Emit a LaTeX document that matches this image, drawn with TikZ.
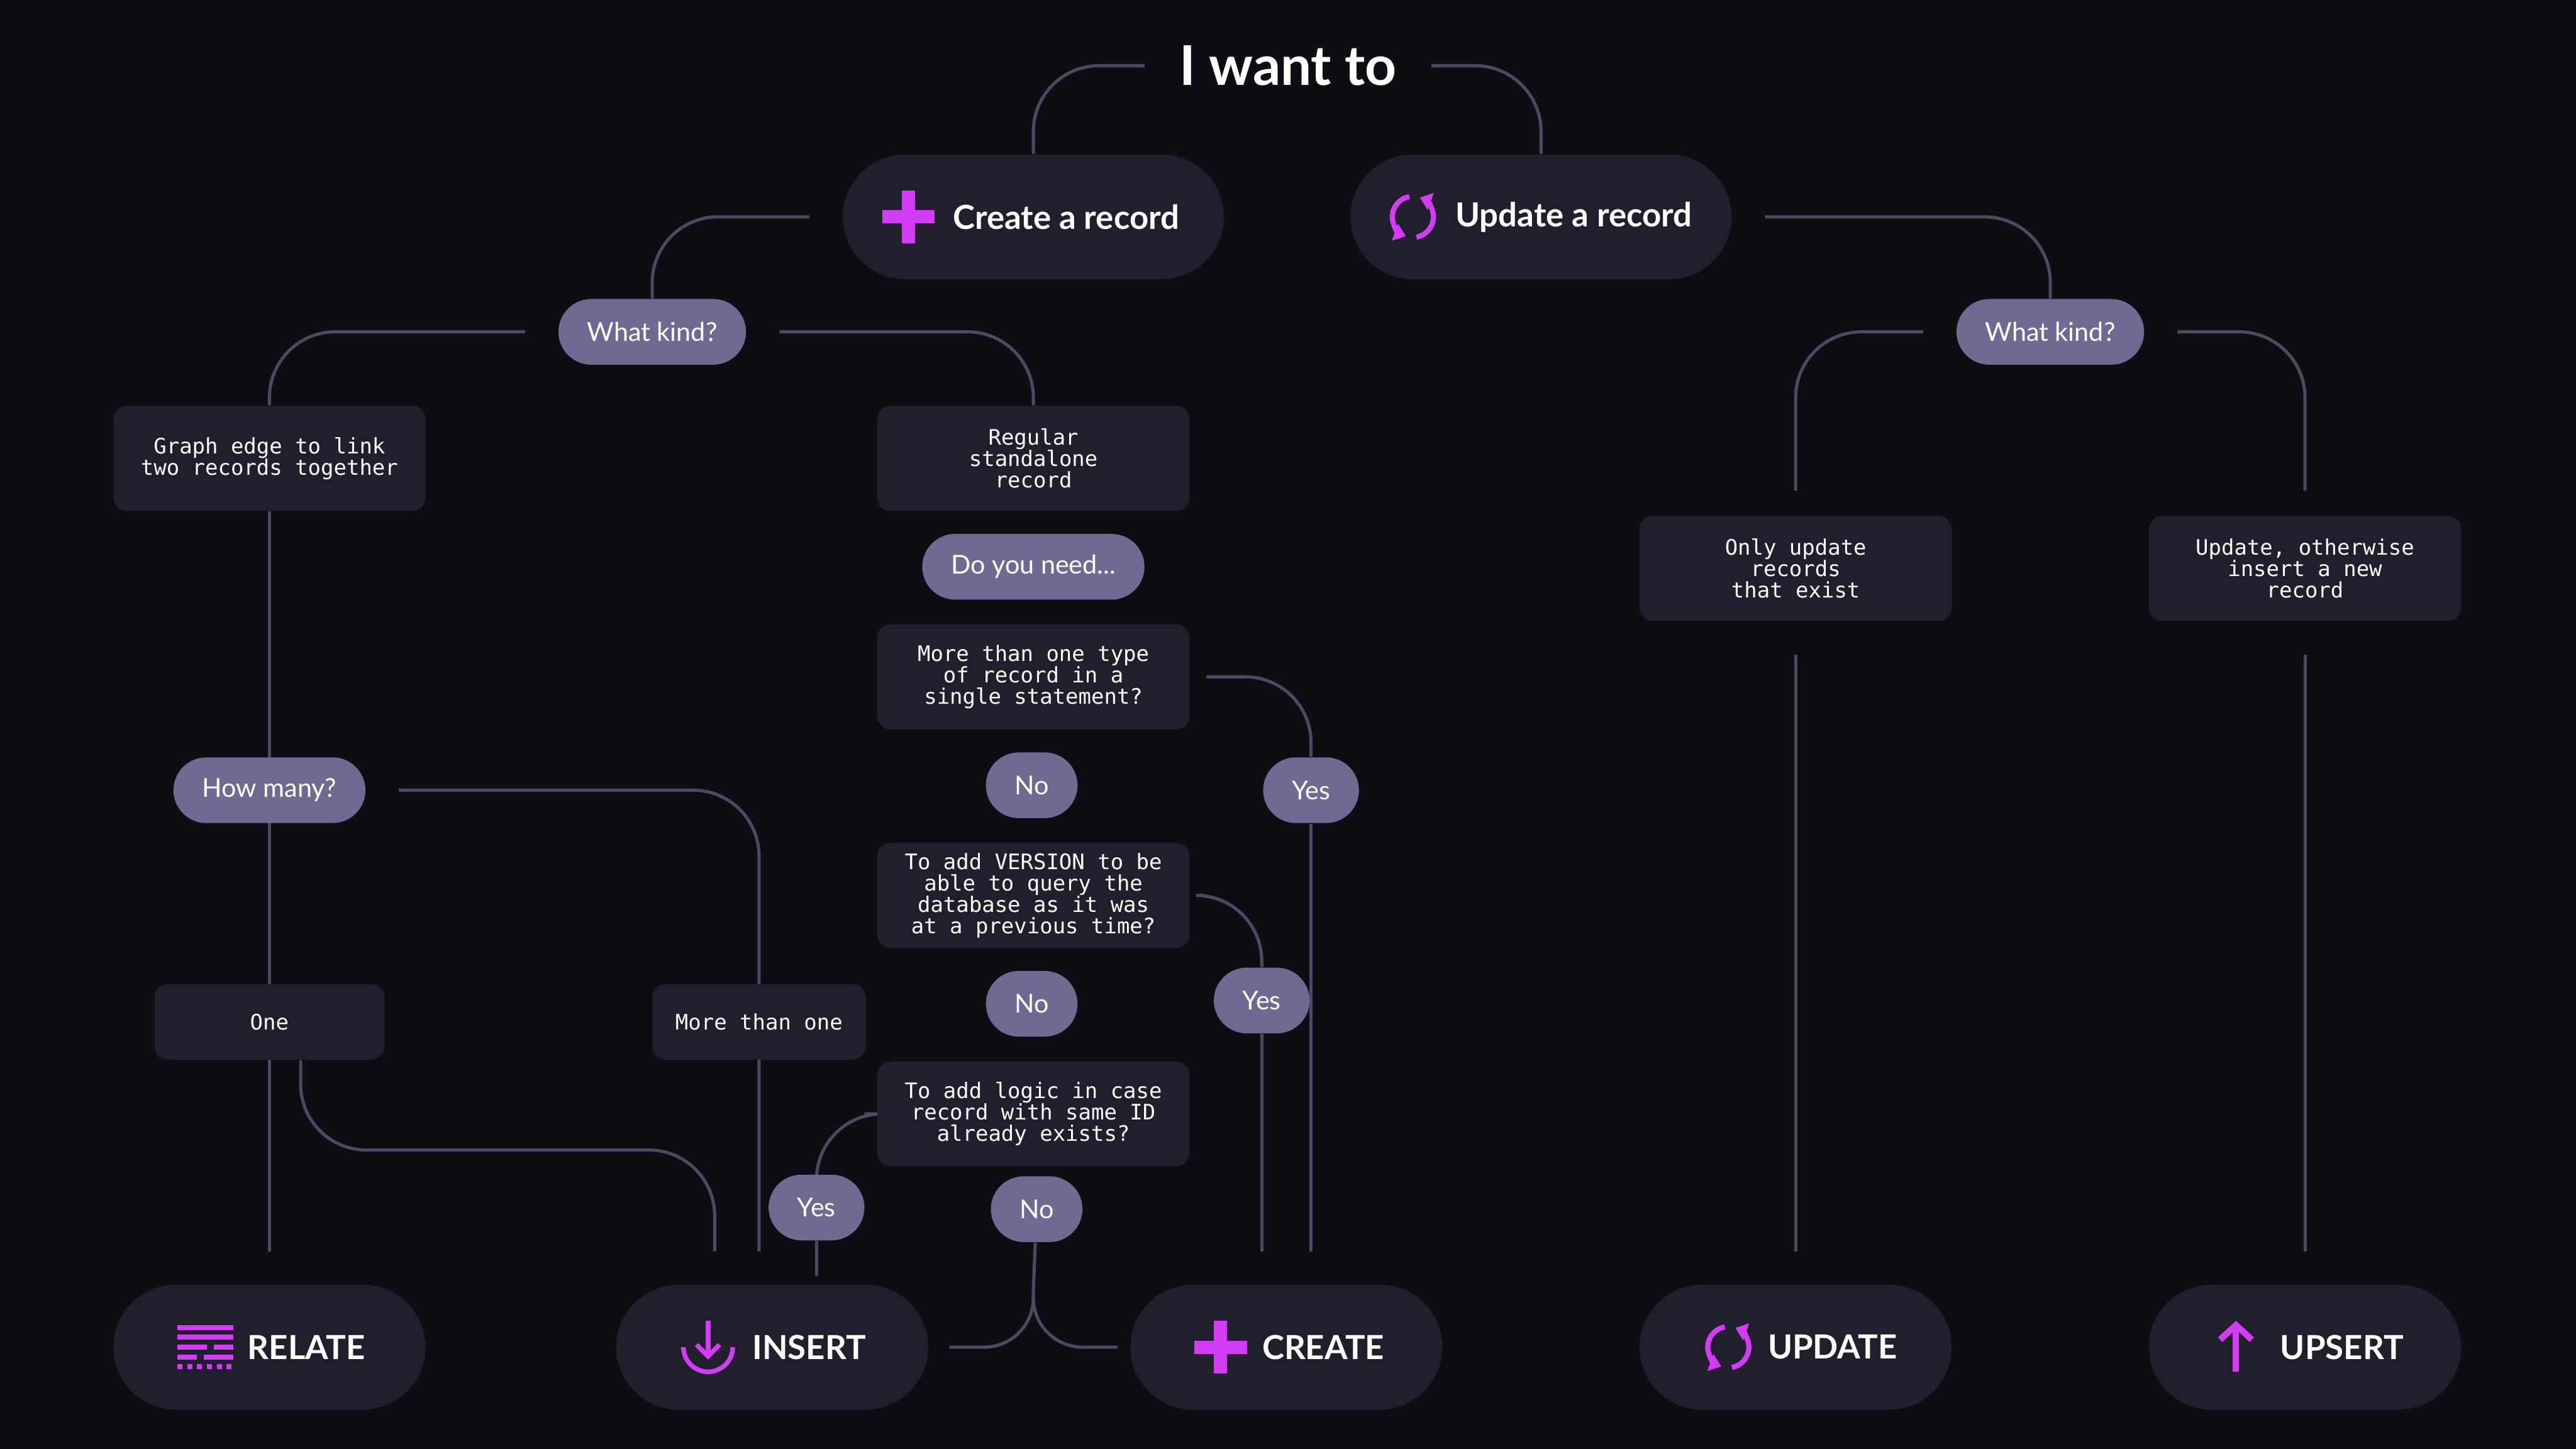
\documentclass[tikz,border=0pt]{standalone}
\usepackage{fontspec}
\setsansfont{Lato}
\setmonofont{DejaVu Sans Mono}
\usetikzlibrary{backgrounds,arrows.meta}
\definecolor{bgdark}{HTML}{0E0D14}
\definecolor{boxdark}{HTML}{211F2E}
\definecolor{pillgrey}{HTML}{6E6A92}
\definecolor{linegrey}{HTML}{4C4963}
\definecolor{magentaicon}{HTML}{D23CF2}

\tikzset{
  pill/.style={rectangle, rounded corners=0.4cm, fill=pillgrey, text=white, minimum height=0.8cm, inner xsep=0.35cm, font=\sffamily\fontsize{9}{10}\selectfont},
  qbox/.style={rectangle, rounded corners=0.16cm, fill=boxdark, text=white, minimum width=3.8cm, minimum height=1.28cm, align=center, font=\ttfamily\fontsize{7.4}{7.4}\selectfont},
  big/.style={rectangle, rounded corners=0.76cm, fill=boxdark, text=white, minimum width=4.64cm, minimum height=1.52cm, font=\sffamily\bfseries\fontsize{11.5}{13}\selectfont},
  result/.style={big, minimum width=3.8cm},
  wire/.style={draw=linegrey, line width=1.1pt, rounded corners=0.8cm},
  pics/plusicon/.style={code={\begin{scope}[x=1cm,y=1cm]
    \fill[magentaicon] (-0.32,-0.08) rectangle (0.32,0.08);
    \fill[magentaicon] (-0.08,-0.32) rectangle (0.08,0.32);\end{scope}}},
  pics/refreshicon/.style={code={\begin{scope}[x=1cm,y=1cm]
    \draw[magentaicon, line width=1.8pt, -{Triangle[length=4pt,width=6pt]}] (100:0.25) arc (100:250:0.25);
    \draw[magentaicon, line width=1.8pt, -{Triangle[length=4pt,width=6pt]}] (280:0.25) arc (280:430:0.25);\end{scope}}},
  pics/inserticon/.style={code={\begin{scope}[x=1cm,y=1cm]
    \draw[magentaicon, line width=1.6pt] (-0.3,0.0) arc (180:360:0.3);
    \draw[magentaicon, line width=1.6pt, -{Straight Barb[length=4pt,width=8pt]}] (0,0.32) -- (0,-0.15);\end{scope}}},
  pics/upserticon/.style={code={\begin{scope}[x=1cm,y=1cm]
    \draw[magentaicon, line width=2.2pt, -{Straight Barb[length=5pt,width=11pt]}] (0,-0.3) -- (0,0.32);\end{scope}}},
  pics/relateicon/.style={code={\begin{scope}[x=1cm,y=1cm]
    \foreach \yy in {0.24,0.12} \fill[magentaicon] (-0.34,\yy-0.03) rectangle (0.34,\yy+0.03);
    \fill[magentaicon] (-0.34,-0.03) rectangle (0.02,0.03);
    \fill[magentaicon] (0.1,-0.03) rectangle (0.34,0.03);
    \fill[magentaicon] (-0.34,-0.15) rectangle (-0.1,-0.09);
    \fill[magentaicon] (-0.02,-0.15) rectangle (0.34,-0.09);
    \foreach \xx in {-0.31,-0.19,...,0.33} \fill[magentaicon] (\xx-0.03,-0.27) rectangle (\xx+0.03,-0.21);\end{scope}}}
}

\begin{document}
\begin{tikzpicture}[x=0.02cm, y=-0.02cm]
\useasboundingbox (0,0) rectangle (1568,882);

% top level
\node (want) at (784,40) [text=white, font=\sffamily\bfseries\fontsize{19}{22}\selectfont] {I want to};
\node (create) at (629,132) [big] {\hspace*{8mm}Create a record};
\node (update) at (938,132) [big] {\hspace*{8mm}Update a record};
\pic at (553,132) {plusicon};
\pic at (860,132) {refreshicon};

\node (kindl) at (397,202) [pill] {What kind?};
\node (kindr) at (1248,202) [pill] {What kind?};

\node (graph) at (164,279) [qbox] {Graph edge to link\\two records together};
\node (regular) at (629,279) [qbox] {Regular\\standalone\\record};
\node (onlyupd) at (1093,346) [qbox] {Only update\\records\\that exist};
\node (updins) at (1403,346) [qbox] {Update, otherwise\\insert a new\\record};

\node (need) at (629,345) [pill] {Do you need...};
\node (multi) at (629,412) [qbox] {More than one type\\of record in a\\single statement?};
\node (no1) at (628,478) [pill] {No};
\node (yes1) at (798,481) [pill] {Yes};
\node (version) at (629,545) [qbox] {To add VERSION to be\\able to query the\\database as it was\\at a previous time?};
\node (no2) at (628,611) [pill] {No};
\node (yes2) at (768,609) [pill] {Yes};
\node (logic) at (629,678) [qbox] {To add logic in case\\record with same ID\\already exists?};
\node (yes3) at (497,735) [pill] {Yes};
\node (no3) at (631,736) [pill] {No};

\node (howmany) at (164,481) [pill] {How many?};
\node (one) at (164,622) [qbox, minimum width=2.8cm, minimum height=0.92cm] {One};
\node (several) at (462,622) [qbox, minimum width=2.6cm, minimum height=0.92cm] {More than one};

% results
\node (relate) at (164,820) [result] {\hspace*{9mm}RELATE};
\node (insert) at (470,820) [result] {\hspace*{9mm}INSERT};
\node (create2) at (783,820) [result] {\hspace*{9mm}CREATE};
\node (update2) at (1093,820) [result] {\hspace*{9mm}UPDATE};
\node (upsert) at (1403,820) [result] {\hspace*{9mm}UPSERT};
\pic at (125,820) {relateicon};
\pic at (431,820) {inserticon};
\pic at (743,820) {plusicon};
\pic at (1052,820) {refreshicon};
\pic at (1361,820) {upserticon};

\coordinate (fork) at (629,785);

\begin{pgfonlayer}{background}
\fill[bgdark] (0,0) rectangle (1568,882);
\draw[wire] ([xshift=-0.3cm]want.west) -| (create.north);
\draw[wire] ([xshift=0.3cm]want.east) -| (update.north);
\draw[wire] ([xshift=-0.4cm]create.west) -| (kindl.north);
\draw[wire] ([xshift=0.4cm]update.east) -| (kindr.north);
\draw[wire] ([xshift=-0.4cm]kindl.west) -| (graph.north);
\draw[wire] ([xshift=0.4cm]kindl.east) -| (regular.north);
\draw[wire] ([xshift=-0.4cm]kindr.west) -| ([yshift=0.3cm]onlyupd.north);
\draw[wire] ([xshift=0.4cm]kindr.east) -| ([yshift=0.3cm]updins.north);
\draw[wire] ([yshift=-0.4cm]onlyupd.south) -- ([yshift=0.4cm]update2.north);
\draw[wire] ([yshift=-0.4cm]updins.south) -- ([yshift=0.4cm]upsert.north);
\draw[wire] (graph.south) -- ([yshift=0.4cm]relate.north);
\draw[wire] ([xshift=0.4cm]howmany.east) -| ([yshift=0.4cm]insert.north -| several);
\draw[wire] (one.south) ++(19,0) |- (435,700) -- ([yshift=0.4cm]insert.north -| 435,0);
\draw[wire] ([xshift=0.2cm]multi.east) -| (yes1.north);
\draw[wire] (yes1) -- ([yshift=0.4cm]create2.north -| yes1);
\draw[wire] ([xshift=0.15cm]version.east) -| (yes2.north);
\draw[wire] (yes2) -- ([yshift=0.4cm]create2.north -| yes2);
\draw[wire] ([xshift=-0.15cm]logic.west) -| (yes3.north);
\draw[wire] (yes3) -- ([yshift=0.1cm]insert.north -| yes3);
\draw[wire] (no3) -- (fork);
\draw[wire, rounded corners=0.6cm] (fork) |- ([xshift=0.25cm]insert.east);
\draw[wire, rounded corners=0.6cm] (fork) |- ([xshift=-0.15cm]create2.west);
\end{pgfonlayer}
\end{tikzpicture}
\end{document}
